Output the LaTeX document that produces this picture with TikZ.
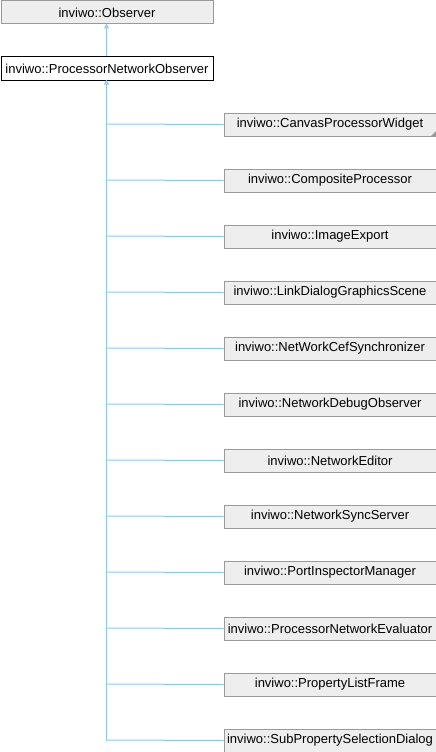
\documentclass[tikz,border=0pt]{standalone}
\usepackage{fontspec}
\setmainfont{Liberation Sans}
\usetikzlibrary{arrows.meta}
\definecolor{boxfill}{HTML}{EEEEEE}
\definecolor{boxline}{HTML}{999999}
\definecolor{edgecol}{HTML}{8CC8EC}
\tikzset{
  cls/.style={draw=boxline, fill=boxfill, line width=1pt, minimum width=212pt, minimum height=23pt, inner sep=0pt, font=\fontsize{13}{15}\selectfont, anchor=north west},
  curcls/.style={cls, draw=black, fill=white},
  inh/.style={draw=edgecol, line width=1pt, -{Triangle[open, length=5pt, width=5pt, fill=edgecol!40]}}
}
\begin{document}
\begin{tikzpicture}[x=1pt,y=-1pt]
\useasboundingbox (0,0) rectangle (436,752);
\node[cls] (obs) at (0.5,0.5) {inviwo::Observer};
\node[curcls] (pno) at (0.5,56.5) {inviwo::ProcessorNetworkObserver};
\draw[inh] (106.5,56.5) -- (106.5,23.5);
\coordinate (trunkbot) at (106.5,740.5);
\foreach \i/\n/\t in {0/c0/inviwo::CanvasProcessorWidget,1/c1/inviwo::CompositeProcessor,2/c2/inviwo::ImageExport,3/c3/inviwo::LinkDialogGraphicsScene,4/c4/inviwo::NetWorkCefSynchronizer,5/c5/inviwo::NetworkDebugObserver,6/c6/inviwo::NetworkEditor,7/c7/inviwo::NetworkSyncServer,8/c8/inviwo::PortInspectorManager,9/c9/inviwo::ProcessorNetworkEvaluator,10/c10/inviwo::PropertyListFrame,11/c11/inviwo::SubPropertySelectionDialog}{
  \node[cls] (\n) at (223.5,112.5+56*\i) {\t};
  \draw[draw=edgecol, line width=1pt] (\n.west) -- (106.5,124+56*\i);
}
\draw[inh] (trunkbot) -- (106.5,79.5);
\fill[boxline] (c0.south east) ++(-0.5,-0.5) -- ++(0,-5) -- ++(-5,5) -- cycle;
\end{tikzpicture}
\end{document}
